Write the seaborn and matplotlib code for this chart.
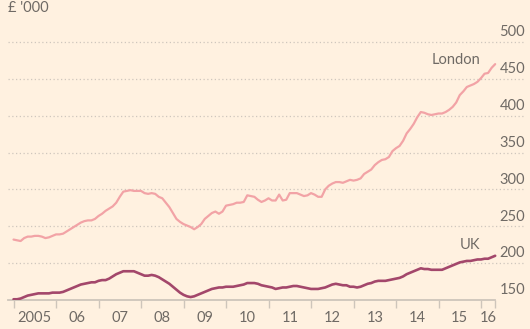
import numpy as np
import pandas as pd
import matplotlib
matplotlib.use("Agg")
import matplotlib.pyplot as plt
import matplotlib.transforms as mtransforms
import seaborn as sns

# Average house prices, £ thousands, monthly from Jan 2005 to May 2016
london = [232, 231, 230, 234, 236, 236, 237, 237, 236, 234, 235, 237,
          239, 239, 240, 243, 246, 249, 252, 255, 257, 258, 258, 260,
          264, 267, 271, 274, 277, 282, 290, 297, 298, 299, 298, 298,
          298, 295, 294, 295, 294, 290, 288, 282, 276, 268, 260, 256,
          253, 251, 249, 246, 249, 253, 260, 264, 268, 270, 267, 270,
          278, 279, 280, 282, 282, 283, 292, 291, 290, 286, 283, 285,
          288, 285, 285, 293, 285, 286, 295, 295, 295, 293, 291, 292,
          295, 293, 290, 290, 300, 305, 308, 310, 310, 309, 311, 313,
          312, 313, 315, 321, 324, 327, 333, 337, 340, 341, 344, 352,
          356, 359, 366, 376, 382, 389, 398, 405, 404, 402, 401, 402,
          403, 403, 405, 408, 412, 418, 428, 433, 439, 441, 443, 446,
          451, 457, 458, 465, 470]
uk = [151, 151, 152, 154, 156, 157, 158, 159, 159, 159, 159, 160,
      160, 160, 161, 163, 165, 167, 169, 171, 172, 173, 174, 174,
      176, 177, 177, 179, 182, 185, 187, 189, 189, 189, 189, 187,
      185, 183, 183, 184, 183, 181, 178, 175, 172, 168, 164, 160,
      157, 155, 154, 155, 157, 159, 161, 163, 165, 166, 167, 167,
      168, 168, 168, 169, 170, 171, 173, 173, 173, 172, 170, 169,
      168, 167, 165, 166, 167, 167, 168, 169, 169, 168, 167, 166,
      165, 165, 165, 166, 167, 169, 171, 172, 171, 170, 170, 168,
      168, 167, 168, 170, 172, 173, 175, 176, 176, 176, 177, 178,
      179, 180, 182, 185, 187, 189, 191, 193, 192, 192, 191, 191,
      191, 191, 193, 195, 197, 199, 201, 202, 203, 203, 204, 205,
      205, 206, 206, 208, 210]
series_names = ["London", "UK"]
year_labels = ["2005", "06", "07", "08", "09", "10", "11", "12", "13", "14", "15", "16"]
y_ticks = [150, 200, 250, 300, 350, 400, 450, 500]

# Fractional-year time axis, one point per month
t = 2005 + np.arange(len(london)) / 12.0
df = pd.concat([
    pd.DataFrame({"year": t, "price": london, "area": series_names[0]}),
    pd.DataFrame({"year": t, "price": uk, "area": series_names[1]}),
])

bg = "#fff1e0"
text_col = "#6f6a65"
axis_col = "#cec5bb"
colors = {"London": "#f2a3a6", "UK": "#a3476b"}

sns.set_theme(style="white")
plt.rcParams["font.family"] = ["Lato", "DejaVu Sans"]

fig = plt.figure(figsize=(5.30, 3.29), dpi=100, facecolor=bg)
ax = fig.add_axes([8 / 530, 29 / 329, 517 / 530, 280.1 / 329])
ax.set_facecolor(bg)

sns.lineplot(data=df, x="year", y="price", hue="area", palette=colors,
             legend=False, ax=ax, linewidth=1.6, zorder=3)
for line, lw in zip(ax.get_lines(), [1.6, 1.9]):
    line.set_linewidth(lw)
    line.set_solid_capstyle("round")

end_t = t[-1]
ax.set_xlim(2004.87, 2017.035)
ax.set_ylim(150, 530)

for s in ["top", "right", "left"]:
    ax.spines[s].set_visible(False)
ax.spines["bottom"].set_color(axis_col)
ax.spines["bottom"].set_linewidth(1.3)
ax.spines["bottom"].set_bounds(2004.87, end_t)

# Year boundary ticks, labels centred in each year
major = list(range(2005, 2017)) + [end_t]
ax.set_xticks(major)
ax.set_xticklabels([""] * len(major))
mids = [(major[i] + major[i + 1]) / 2 for i in range(len(major) - 1)]
ax.set_xticks(mids, minor=True)
ax.set_xticklabels(year_labels, minor=True)
ax.tick_params(axis="x", which="major", direction="out", length=6,
               width=1, color=axis_col, bottom=True)
ax.tick_params(axis="x", which="minor", length=0, pad=8,
               labelsize=10.5, labelcolor=text_col)
ax.set_xlabel("")
ax.set_ylabel("")

# Dotted horizontal gridlines with value labels sitting on top at the right
ax.set_yticks([])
trans = mtransforms.blended_transform_factory(ax.transAxes, ax.transData)
for v in y_ticks:
    if v > 150:
        ax.axhline(v, color="#cfc6bd", linewidth=0.9,
                   linestyle=(0, (1, 2)), zorder=1)
    ax.annotate(str(v), xy=(1.0, v), xycoords=trans, xytext=(0, 2),
                textcoords="offset points", ha="right", va="bottom",
                fontsize=10.5, color=text_col)

ax.text(2015.98, 476, "London", ha="right", va="center",
        fontsize=10.5, color=text_col)
ax.text(2015.98, 225, "UK", ha="right", va="center",
        fontsize=10.5, color=text_col)

fig.text(8 / 530, 1 - 8 / 329, "£ '000", ha="left", va="center",
         fontsize=10.5, color=text_col)

fig.savefig("out.png", dpi=100, facecolor=bg)
